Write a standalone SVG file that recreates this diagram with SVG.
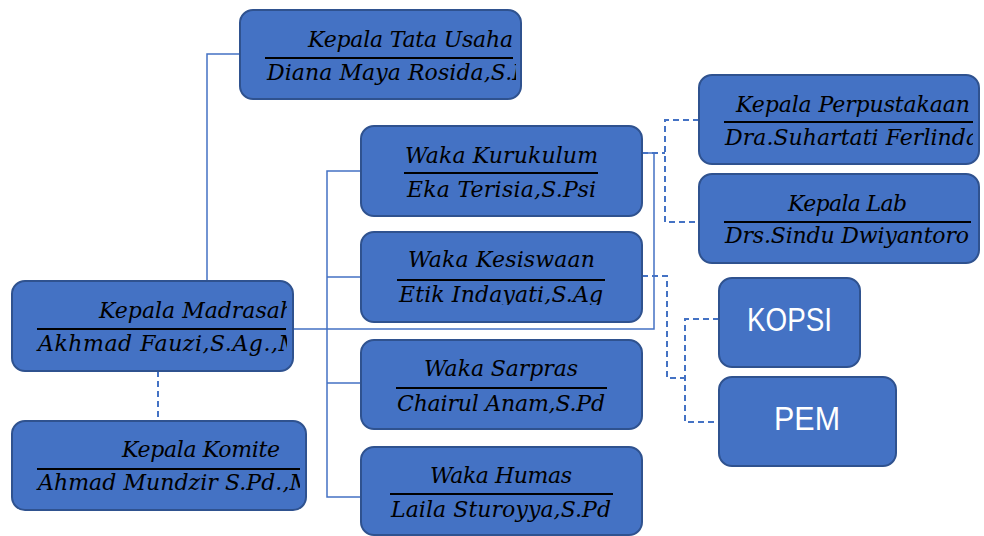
<svg xmlns="http://www.w3.org/2000/svg" width="984" height="536" viewBox="0 0 984 536">
<style>
.box{fill:#4472C4;stroke:#2F528F;stroke-width:2}
.t{font-family:"DejaVu Serif","Liberation Serif",serif;font-style:italic;font-size:22px;fill:#000}
.fr{stroke:#000;stroke-width:1.8}
.s{fill:none;stroke:#4472C4;stroke-width:1.5}
.d{fill:none;stroke:#4472C4;stroke-width:2;stroke-dasharray:6,4}
.w{font-family:"Liberation Sans",Arial,sans-serif;font-size:33px;fill:#fff}
</style>
<defs>
<clipPath id="cTU"><rect x="240" y="10" width="276" height="89"/></clipPath>
<clipPath id="cKM"><rect x="12" y="281" width="275" height="90"/></clipPath>
<clipPath id="cKK"><rect x="12" y="421" width="288" height="89"/></clipPath>
<clipPath id="cKP"><rect x="699" y="75" width="274" height="89"/></clipPath>
<clipPath id="cKS"><rect x="361" y="232" width="281" height="73"/></clipPath>
</defs>
<g id="connectors">
<path class="s" d="M240,54 H207 V281"/>
<path class="s" d="M293,329 H654 V153 H645"/>
<path class="s" d="M361,171 H327 V497 H361 M327,277 H361 M327,383 H361"/>
<path class="d" d="M158,371 V421"/>
<path class="d" d="M642,153 H665 M699,120 H665 V222 H699"/>
<path class="d" d="M642,276 H667 V378 H685 M719,319 H685 V422 H719"/>
</g>
<g id="kepala-tata-usaha">
<rect class="box" x="240" y="10" width="281" height="89" rx="13"/>
<text class="t" x="308" y="47" textLength="205" lengthAdjust="spacing">Kepala Tata Usaha</text>
<line class="fr" x1="265" y1="58" x2="513" y2="58"/>
<g clip-path="url(#cTU)"><text class="t" x="267" y="80" textLength="260" lengthAdjust="spacing">Diana Maya Rosida,S.P</text></g>
</g>
<g id="kepala-madrasah">
<rect class="box" x="12" y="281" width="281" height="90" rx="13"/>
<g clip-path="url(#cKM)">
<text class="t" x="99" y="318" textLength="195" lengthAdjust="spacing">Kepala Madrasah</text>
<text class="t" x="38" y="351" textLength="263" lengthAdjust="spacing">Akhmad Fauzi,S.Ag.,M</text>
</g>
<line class="fr" x1="37" y1="329" x2="286" y2="329"/>
</g>
<g id="kepala-komite">
<rect class="box" x="12" y="421" width="294" height="89" rx="13"/>
<text class="t" x="122" y="457" textLength="158" lengthAdjust="spacing">Kepala Komite</text>
<line class="fr" x1="37" y1="469" x2="300" y2="469"/>
<g clip-path="url(#cKK)"><text class="t" x="38" y="490" textLength="274" lengthAdjust="spacing">Ahmad Mundzir S.Pd.,M</text></g>
</g>
<g id="waka-kurukulum">
<rect class="box" x="361" y="126" width="281" height="90" rx="13"/>
<text class="t" x="405" y="163" textLength="193" lengthAdjust="spacing">Waka Kurukulum</text>
<line class="fr" x1="404" y1="173" x2="598" y2="173"/>
<text class="t" x="407" y="197" textLength="189" lengthAdjust="spacing">Eka Terisia,S.Psi</text>
</g>
<g id="waka-kesiswaan">
<rect class="box" x="361" y="232" width="281" height="90" rx="13"/>
<text class="t" x="408" y="267" textLength="187" lengthAdjust="spacing">Waka Kesiswaan</text>
<line class="fr" x1="397" y1="280" x2="605" y2="280"/>
<g clip-path="url(#cKS)"><text class="t" x="399" y="302" textLength="204" lengthAdjust="spacing">Etik Indayati,S.Ag</text></g>
</g>
<g id="waka-sarpras">
<rect class="box" x="361" y="340" width="281" height="89" rx="13"/>
<text class="t" x="424" y="376" textLength="154" lengthAdjust="spacing">Waka Sarpras</text>
<line class="fr" x1="396" y1="388" x2="607" y2="388"/>
<text class="t" x="397" y="411" textLength="208" lengthAdjust="spacing">Chairul Anam,S.Pd</text>
</g>
<g id="waka-humas">
<rect class="box" x="361" y="447" width="281" height="88" rx="13"/>
<text class="t" x="430" y="483" textLength="142" lengthAdjust="spacing">Waka Humas</text>
<line class="fr" x1="390" y1="494" x2="613" y2="494"/>
<text class="t" x="391" y="517" textLength="220" lengthAdjust="spacing">Laila Sturoyya,S.Pd</text>
</g>
<g id="kepala-perpustakaan">
<rect class="box" x="699" y="75" width="280" height="89" rx="13"/>
<text class="t" x="736" y="112" textLength="234" lengthAdjust="spacing">Kepala Perpustakaan</text>
<line class="fr" x1="724" y1="122" x2="973" y2="122"/>
<g clip-path="url(#cKP)"><text class="t" x="725" y="145" textLength="254" lengthAdjust="spacing">Dra.Suhartati Ferlinda</text></g>
</g>
<g id="kepala-lab">
<rect class="box" x="699" y="174" width="280" height="89" rx="13"/>
<text class="t" x="788" y="211" textLength="119" lengthAdjust="spacing">Kepala Lab</text>
<line class="fr" x1="724" y1="222" x2="971" y2="222"/>
<text class="t" x="725" y="243" textLength="244" lengthAdjust="spacing">Drs.Sindu Dwiyantoro</text>
</g>
<g id="kopsi">
<rect class="box" x="719" y="278" width="141" height="89" rx="13"/>
<text class="w" x="747" y="331" textLength="85" lengthAdjust="spacingAndGlyphs">KOPSI</text>
</g>
<g id="pem">
<rect class="box" x="719" y="377" width="177" height="89" rx="13"/>
<text class="w" x="774" y="430" textLength="66" lengthAdjust="spacingAndGlyphs">PEM</text>
</g>
</svg>
